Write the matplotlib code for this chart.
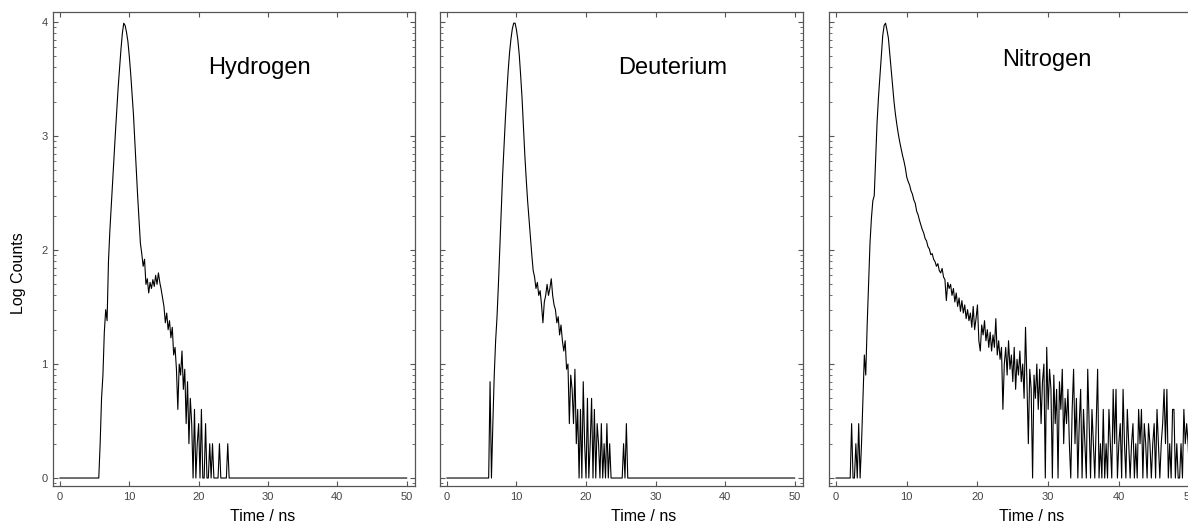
#!/usr/bin/env python3
"""
Fluorescence decay traces (log counts vs time) for three gases, side by side.
Counts are read off the reference picture on a 0.2 ns channel grid.
"""
import numpy as np
import matplotlib
matplotlib.use("Agg")
import matplotlib.pyplot as plt
from matplotlib.ticker import FixedLocator, FuncFormatter, LogLocator, NullFormatter

plt.rcParams.update({
    "font.family": ["Liberation Sans", "DejaVu Sans"],
    "axes.linewidth": 0.9,
    "axes.edgecolor": "#555555",
})

# ── data: counts per 0.2 ns channel, t = 0 .. 50 ns ──────────────────────────
TIME_NS = np.round(np.arange(251) * 0.2, 1)

PANEL_NAMES = ["Hydrogen", "Deuterium", "Nitrogen"]

HYDROGEN_COUNTS = [0] * 29 + [
    2, 5, 8, 19, 30, 24, 80, 148, 245, 407,
    676, 1072, 1700, 2690, 3981, 5754, 7943, 9772, 9333, 8128,
    6761, 5012, 3548, 2344, 1549, 891, 501, 302, 186, 115,
    93, 72, 83, 50, 56, 42, 52, 46, 55, 48,
    60, 50, 63, 52, 45, 38, 32, 23, 28, 20,
    24, 17, 21, 12, 14, 9, 4, 10, 8, 13,
    6, 9, 3, 7, 2, 5, 3, 1, 4, 0,
    2, 3, 0, 4, 1, 0, 3, 0, 0, 2,
    0, 2, 0, 0, 0, 0, 2, 0, 0, 0,
    0, 0, 2,
]

DEUTERIUM_COUNTS = [0] * 31 + [
    7, 0, 3, 8, 16, 26, 50, 105, 224, 447,
    794, 1413, 2344, 3715, 5370, 7079, 8710, 9772, 9772, 8511,
    6918, 5129, 3388, 2138, 1202, 676, 417, 269, 186, 126,
    91, 66, 58, 46, 52, 40, 44, 33, 23, 35,
    40, 50, 40, 46, 56, 40, 33, 30, 23, 26,
    18, 22, 16, 13, 16, 9, 10, 3, 8, 6,
    3, 9, 2, 4, 0, 4, 0, 7, 2, 0,
    5, 0, 2, 5, 0, 4, 0, 3, 2, 0,
    3, 0, 2, 0, 3, 0, 2, 0, 0, 0,
    0, 0, 0, 0, 0, 0, 2, 0, 3,
]

NITROGEN_COUNTS = [0] * 11 + [
    3, 0, 0, 2, 0, 3, 1, 2, 5, 12,
    8, 22, 52, 115, 190, 270, 300, 631, 1318, 2188,
    3311, 5012, 7586, 9333, 9772, 8511, 7244, 5248, 3715, 2692,
    1995, 1549, 1259, 1047, 891, 776, 676, 603, 525, 436,
    398, 372, 331, 309, 275, 257, 219, 204, 182, 166,
    151, 141, 126, 120, 107, 102, 91, 93, 83, 79,
    72, 76, 66, 63, 69, 58, 55, 36, 52, 46,
    50, 40, 46, 35, 42, 32, 38, 29, 36, 28,
    33, 25, 30, 24, 28, 21, 32, 20, 25, 33,
    16, 13, 22, 18, 24, 16, 20, 14, 19, 13,
    18, 14, 25, 12, 16, 11, 14, 4, 10, 14,
    8, 16, 9, 12, 7, 14, 6, 11, 8, 13,
    7, 10, 5, 21, 7, 2, 9, 6, 0, 8,
    5, 10, 4, 9, 3, 7, 10, 0, 14, 4,
    9, 6, 0, 8, 3, 6, 0, 7, 4, 9,
    2, 5, 3, 6, 2, 0, 4, 9, 2, 5,
    0, 3, 6, 1, 4, 2, 0, 9, 3, 0,
    4, 2, 0, 3, 9, 0, 2, 0, 4, 1,
    2, 0, 4, 2, 0, 6, 2, 6, 0, 2,
    3, 0, 6, 2, 0, 4, 2, 0, 2, 3,
    0, 2, 1, 4, 2, 4, 0, 3, 2, 0,
    3, 2, 0, 2, 3, 0, 4, 2, 0, 2,
    3, 6, 2, 6, 0, 2, 0, 4, 4, 0,
    2, 0, 0, 2, 0, 4, 2, 3, 2, 0,
]

ALL_COUNTS = [HYDROGEN_COUNTS, DEUTERIUM_COUNTS, NITROGEN_COUNTS]

# name label placement (time in ns, log counts)
NAME_POS = [(28.7, 3.6), (32.4, 3.6), (29.8, 3.67)]

# ── layout (pixel boxes of the three frames in a 1188 x 524 canvas) ─────────
W, H = 1188, 524
FRAMES = [(53, 415), (440, 803), (829, 1198)]
TOP, BOTTOM = 12, 486
XLABEL_X = [0.58, 0.56, 0.55]


def main():
    fig = plt.figure(figsize=(W / 100, H / 100), dpi=100)

    for k, (x0, x1) in enumerate(FRAMES):
        ax = fig.add_axes([x0 / W, (H - BOTTOM) / H, (x1 - x0) / W, (BOTTOM - TOP) / H])
        counts = np.array(ALL_COUNTS[k] + [0] * (len(TIME_NS) - len(ALL_COUNTS[k])))
        ax.plot(TIME_NS, np.maximum(counts, 1), color="black", linewidth=0.8)

        ax.set_yscale("log")
        ax.set_xlim(-1.0, 51.2)
        ax.set_ylim(10 ** -0.07, 10 ** 4.088)
        ax.set_xticks([0, 10, 20, 30, 40, 50])
        ax.yaxis.set_major_locator(FixedLocator([1, 10, 100, 1000, 10000]))
        ax.yaxis.set_minor_locator(LogLocator(base=10, subs=range(2, 10)))
        ax.yaxis.set_minor_formatter(NullFormatter())
        if k == 0:
            ax.yaxis.set_major_formatter(FuncFormatter(lambda v, p: f"{np.log10(v):.0f}"))
            ax.set_ylabel("Log Counts", fontsize=11.5)
            ax.yaxis.set_label_coords(-0.075, 0.45)
        else:
            ax.yaxis.set_major_formatter(NullFormatter())

        ax.tick_params(which="both", direction="in", top=True, right=True,
                       color="#555555", labelcolor="#444444", labelsize=8, pad=4)
        ax.tick_params(which="major", length=3.5, width=0.8)
        ax.tick_params(which="minor", length=2, width=0.6)

        ax.set_xlabel("Time / ns", fontsize=11.5)
        ax.xaxis.set_label_coords(XLABEL_X[k], -0.048)

        tx, ty = NAME_POS[k]
        ax.text(tx, 10 ** ty, PANEL_NAMES[k], ha="center", va="center", fontsize=17)

    fig.savefig("out.png", dpi=100)
    plt.close(fig)


if __name__ == "__main__":
    main()
